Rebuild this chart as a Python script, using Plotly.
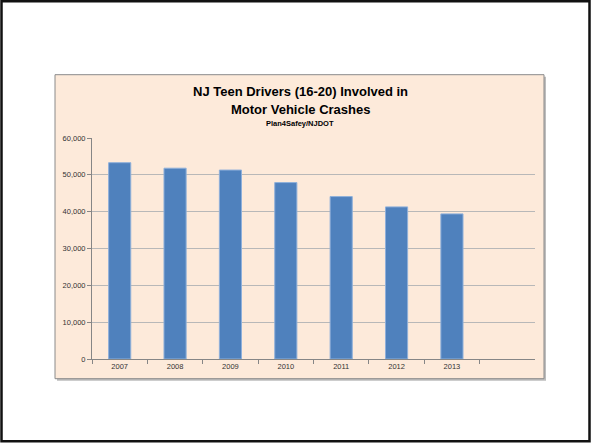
import plotly.graph_objects as go

years = ["2007", "2008", "2009", "2010", "2011", "2012", "2013"]
crashes = [53300, 51800, 51300, 47900, 44100, 41300, 39400]
y_ticks = [0, 10000, 20000, 30000, 40000, 50000, 60000]
title_line1 = "NJ Teen Drivers (16-20) Involved in"
title_line2 = "Motor Vehicle Crashes"
subtitle = "Plan4Safey/NJDOT"

W, H = 591, 444
L, R, T, B = 92, 535, 138.3, 359.3

def px(x):
    return (x - L) / (R - L)

def py(y):
    return (B - y) / (B - T)

fig = go.Figure()
fig.add_trace(go.Bar(
    x=years, y=crashes,
    marker=dict(color="#4F81BD", line=dict(color="#8FB0DA", width=1)),
    hoverinfo="x+y",
))

shapes = [
    # outer slide border
    dict(type="rect", xref="paper", yref="paper", x0=px(1.5), x1=px(589.5), y0=py(1.5), y1=py(441.5),
         line=dict(color="#111111", width=2.5), fillcolor="white", layer="below"),
    # chart area shadow
    dict(type="rect", xref="paper", yref="paper", x0=px(57), x1=px(546), y0=py(77), y1=py(381),
         line=dict(width=0), fillcolor="#BDBDBD", layer="below"),
    # chart area
    dict(type="rect", xref="paper", yref="paper", x0=px(55), x1=px(544), y0=py(75), y1=py(379),
         line=dict(color="#8A8A8A", width=1), fillcolor="#FDEADA", layer="below"),
]

title_font = dict(family="Liberation Sans, Arial, sans-serif", size=13, color="#000000")
annotations = [
    dict(text="<b>%s</b>" % title_line1, xref="paper", yref="paper", x=px(300), y=py(91.7),
         showarrow=False, font=title_font, xanchor="center", yanchor="middle"),
    dict(text="<b>%s</b>" % title_line2, xref="paper", yref="paper", x=px(300), y=py(109.3),
         showarrow=False, font=title_font, xanchor="center", yanchor="middle"),
    dict(text="<b>%s</b>" % subtitle, xref="paper", yref="paper", x=px(300), y=py(123.3),
         showarrow=False, font=dict(family="Liberation Sans, Arial, sans-serif", size=7.5, color="#000000"),
         xanchor="center", yanchor="middle"),
]

tick_font = dict(family="Liberation Sans, Arial, sans-serif", size=7.5, color="#333333")

fig.update_layout(
    width=W, height=H,
    margin=dict(l=L, r=W - R, t=T, b=H - B, pad=0),
    paper_bgcolor="white",
    plot_bgcolor="rgba(0,0,0,0)",
    showlegend=False,
    bargap=0.6,
    shapes=shapes,
    annotations=annotations,
    separators=".,",
    xaxis=dict(
        type="category", categoryorder="array", categoryarray=years,
        range=[-0.5, 7.5], tickson="boundaries",
        ticks="outside", ticklen=4, tickcolor="#868686",
        showline=True, linecolor="#868686", linewidth=1,
        showgrid=False, tickfont=tick_font, fixedrange=True,
    ),
    yaxis=dict(
        range=[0, 60000], tickvals=y_ticks, tickformat=",d",
        ticks="outside", ticklen=4, tickcolor="#868686",
        showline=True, linecolor="#868686", linewidth=1,
        showgrid=True, gridcolor="#B8B8B8", gridwidth=1,
        zeroline=False, tickfont=tick_font, fixedrange=True,
    ),
)

fig.write_html(
    "out.html",
    config={"displayModeBar": False},
    post_script="document.body.style.margin='0';document.body.style.overflow='hidden';",
)
